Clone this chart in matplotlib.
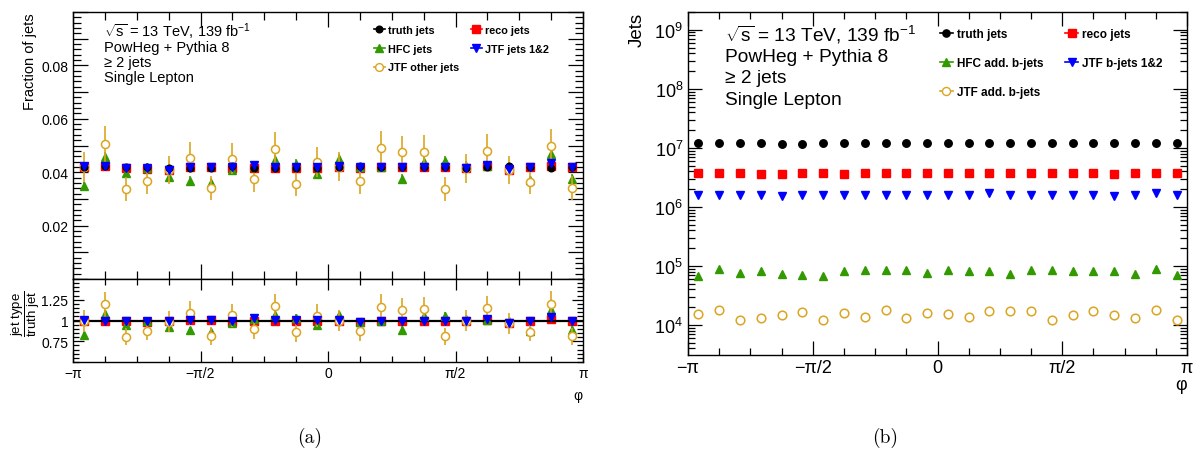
import numpy as np
import matplotlib
matplotlib.use('Agg')
import matplotlib.pyplot as plt
from matplotlib.lines import Line2D
from matplotlib.ticker import FixedLocator, FuncFormatter, MultipleLocator, LogLocator, NullFormatter

plt.rcParams['font.family'] = ['Liberation Sans', 'DejaVu Sans']
plt.rcParams['mathtext.fontset'] = 'custom'
plt.rcParams['mathtext.rm'] = 'Liberation Sans'
plt.rcParams['mathtext.it'] = 'Liberation Sans:italic'
plt.rcParams['mathtext.bf'] = 'Liberation Sans:bold'

# 24 bins in phi
n_bins = 24
phi_edges = np.linspace(-np.pi, np.pi, n_bins + 1)
phi_centers = 0.5 * (phi_edges[:-1] + phi_edges[1:])

# (a) fraction of jets per bin
truth_frac = [0.0421, 0.0424, 0.0420, 0.0420, 0.0414, 0.0417, 0.0417, 0.0423, 0.0415, 0.0417, 0.0415, 0.0415,
              0.0421, 0.0424, 0.0421, 0.0421, 0.0418, 0.0418, 0.0416, 0.0420, 0.0423, 0.0421, 0.0416, 0.0421]
reco_frac = [0.0421, 0.0424, 0.0416, 0.0412, 0.0410, 0.0421, 0.0421, 0.0415, 0.0415, 0.0417, 0.0415, 0.0415,
             0.0421, 0.0416, 0.0421, 0.0421, 0.0418, 0.0418, 0.0416, 0.0424, 0.0410, 0.0421, 0.0424, 0.0421]
jtf12_frac = [0.0422, 0.0424, 0.0415, 0.0415, 0.0410, 0.0421, 0.0421, 0.0418, 0.0428, 0.0418, 0.0418, 0.0418,
              0.0424, 0.0418, 0.0421, 0.0418, 0.0418, 0.0418, 0.0416, 0.0428, 0.0412, 0.0421, 0.0433, 0.0421]
hfc_frac = [0.0348, 0.0457, 0.0398, 0.0415, 0.0381, 0.0368, 0.0360, 0.0410, 0.0425, 0.0444, 0.0430, 0.0394,
            0.0450, 0.0418, 0.0420, 0.0375, 0.0440, 0.0443, 0.0424, 0.0425, 0.0420, 0.0370, 0.0467, 0.0375]
hfc_err = [0.0017, 0.0019, 0.0018, 0.0018, 0.0017, 0.0017, 0.0017, 0.0018, 0.0018, 0.0019, 0.0018, 0.0018,
           0.0019, 0.0018, 0.0018, 0.0017, 0.0019, 0.0019, 0.0018, 0.0018, 0.0018, 0.0017, 0.0019, 0.0017]
other_frac = [0.0419, 0.0506, 0.0338, 0.0368, 0.0409, 0.0455, 0.0340, 0.0450, 0.0374, 0.0488, 0.0356, 0.0439,
              0.0421, 0.0368, 0.0491, 0.0475, 0.0476, 0.0338, 0.0415, 0.0481, 0.0409, 0.0364, 0.0498, 0.0341]
other_err = [0.0055, 0.0066, 0.0044, 0.0048, 0.0053, 0.0059, 0.0044, 0.0058, 0.0049, 0.0063, 0.0046, 0.0057,
             0.0055, 0.0048, 0.0064, 0.0062, 0.0062, 0.0044, 0.0054, 0.0063, 0.0053, 0.0047, 0.0065, 0.0044]

# (b) number of jets per bin
truth_n = [1.19e7, 1.21e7, 1.19e7, 1.19e7, 1.18e7, 1.18e7, 1.19e7, 1.19e7, 1.19e7, 1.19e7, 1.19e7, 1.19e7,
           1.19e7, 1.19e7, 1.19e7, 1.19e7, 1.19e7, 1.19e7, 1.19e7, 1.19e7, 1.19e7, 1.19e7, 1.19e7, 1.19e7]
reco_n = [3.82e6, 3.82e6, 3.82e6, 3.67e6, 3.67e6, 3.82e6, 3.82e6, 3.67e6, 3.82e6, 3.82e6, 3.82e6, 3.82e6,
          3.82e6, 3.82e6, 3.82e6, 3.82e6, 3.82e6, 3.82e6, 3.82e6, 3.82e6, 3.67e6, 3.82e6, 3.82e6, 3.82e6]
jtf12_n = [1.62e6, 1.62e6, 1.62e6, 1.62e6, 1.55e6, 1.62e6, 1.62e6, 1.62e6, 1.62e6, 1.62e6, 1.62e6, 1.62e6,
           1.62e6, 1.62e6, 1.70e6, 1.62e6, 1.62e6, 1.62e6, 1.62e6, 1.62e6, 1.55e6, 1.62e6, 1.70e6, 1.62e6]
hfc_n = [6.67e4, 8.81e4, 7.57e4, 8.17e4, 7.20e4, 7.02e4, 6.84e4, 8.17e4, 8.38e4, 8.59e4, 8.38e4, 7.57e4,
         8.70e4, 8.27e4, 8.27e4, 7.20e4, 8.48e4, 8.48e4, 8.07e4, 8.27e4, 8.27e4, 7.20e4, 8.92e4, 7.11e4]
other_n = [1.52e4, 1.81e4, 1.21e4, 1.32e4, 1.46e4, 1.64e4, 1.22e4, 1.62e4, 1.37e4, 1.77e4, 1.29e4, 1.58e4,
           1.54e4, 1.34e4, 1.72e4, 1.72e4, 1.72e4, 1.22e4, 1.48e4, 1.72e4, 1.48e4, 1.32e4, 1.81e4, 1.22e4]

GREEN = '#339900'
ORANGE = '#dba521'
PI_TICKS = [-np.pi, -np.pi / 2, 0, np.pi / 2, np.pi]
PI_LABELS = ['\u2212\u03c0', '\u2212\u03c0/2', '0', '\u03c0/2', '\u03c0']


def root_ticks(ax, major_len, minor_len):
    ax.tick_params(which='both', direction='in', top=True, right=True, width=0.9)
    ax.tick_params(which='major', length=major_len)
    ax.tick_params(which='minor', length=minor_len)
    for s in ax.spines.values():
        s.set_linewidth(1.0)


def phi_axis(ax, labels):
    ax.set_xlim(-np.pi, np.pi)
    ax.xaxis.set_major_locator(FixedLocator(PI_TICKS))
    ax.xaxis.set_minor_locator(MultipleLocator(np.pi / 8))
    if labels:
        ax.set_xticklabels(PI_LABELS)
    else:
        ax.tick_params(axis='x', labelbottom=False)


fig = plt.figure(figsize=(11.95, 4.52), dpi=100)

# ---------------- (a) upper panel ----------------
ax1 = fig.add_axes([73 / 1195, 1 - 280 / 452, 510 / 1195, 267 / 452])
ax1.errorbar(phi_centers, reco_frac, fmt='s', color='red', ms=5.8, zorder=2)
ax1.errorbar(phi_centers, hfc_frac, yerr=hfc_err, fmt='^', color=GREEN, ms=5.4, elinewidth=1.1, zorder=3)
ax1.errorbar(phi_centers, other_frac, yerr=other_err, fmt='o', color=ORANGE, mfc='white', ms=5.8,
             mew=1.1, elinewidth=1.2, zorder=4)
ax1.errorbar(phi_centers, truth_frac, fmt='o', color='black', ms=4.8, zorder=5)
ax1.errorbar(phi_centers, jtf12_frac, fmt='v', color='blue', ms=5.4, zorder=6)
phi_axis(ax1, False)
ax1.set_ylim(0, 0.1)
ax1.yaxis.set_major_locator(MultipleLocator(0.01))
ax1.yaxis.set_minor_locator(MultipleLocator(0.002))
ax1.yaxis.set_major_formatter(FuncFormatter(
    lambda v, p: ('%.2f' % v) if (round(v * 100) % 2 == 0 and 0.005 < v < 0.095) else ''))
ax1.tick_params(axis='y', labelsize=10)
root_ticks(ax1, 11, 6)
ax1.set_ylabel('Fraction of jets', fontsize=10.5, loc='top')
ax1.yaxis.set_label_coords(-0.07, 1.0)

ax1.text(0.06, 0.93, r'$\sqrt{\mathrm{s}}$ = 13 TeV, 139 fb$^{\mathregular{-1}}$', transform=ax1.transAxes,
         fontsize=10.5, va='center')
for i, line in enumerate(['PowHeg + Pythia 8', '\u2265 2 jets', 'Single Lepton']):
    ax1.text(0.06, 0.87 - i * 0.057, line, transform=ax1.transAxes, fontsize=10.5, va='center')

handles_a = [
    Line2D([], [], color='black', marker='o', ms=4.8, lw=1.2),
    Line2D([], [], color=GREEN, marker='^', ms=5.2, lw=1.2),
    Line2D([], [], color=ORANGE, marker='o', mfc='white', ms=5.6, lw=1.2),
    Line2D([], [], color='red', marker='s', ms=5.6, lw=1.2),
    Line2D([], [], color='blue', marker='v', ms=5.2, lw=1.2),
]
labels_a = ['truth jets', 'HFC jets', 'JTF other jets', 'reco jets', 'JTF jets 1&2']
fig.legend(handles_a, labels_a, ncol=2, loc='upper left', bbox_to_anchor=(374 / 1195, 1 - 26 / 452),
           frameon=False, prop={'weight': 'bold', 'size': 7.8}, handlelength=1.0, handletextpad=0.3,
           labelspacing=0.8, columnspacing=1.05, borderpad=0, borderaxespad=0)

# ---------------- (a) ratio panel ----------------
axr = fig.add_axes([73 / 1195, 1 - 363 / 452, 510 / 1195, 83 / 452])
truth_arr = np.array(truth_frac)
axr.errorbar(phi_centers, np.array(reco_frac) / truth_arr, fmt='s', color='red', ms=5.8, zorder=2)
axr.axhline(1.0, color='black', lw=1.6, zorder=3)
axr.errorbar(phi_centers, np.array(hfc_frac) / truth_arr, yerr=np.array(hfc_err) / truth_arr, fmt='^',
             color=GREEN, ms=5.4, elinewidth=1.1, zorder=4)
axr.errorbar(phi_centers, np.array(other_frac) / truth_arr, yerr=np.array(other_err) / truth_arr, fmt='o',
             color=ORANGE, mfc='white', ms=5.8, mew=1.1, elinewidth=1.2, zorder=5)
axr.errorbar(phi_centers, np.array(jtf12_frac) / truth_arr, fmt='v', color='blue', ms=5.4, zorder=6)
phi_axis(axr, True)
axr.set_ylim(0.5, 1.5)
axr.yaxis.set_major_locator(FixedLocator([0.75, 1.0, 1.25]))
axr.yaxis.set_major_formatter(FuncFormatter(lambda v, p: {0.75: '0.75', 1.0: '1', 1.25: '1.25'}.get(round(v, 2), '')))
axr.yaxis.set_minor_locator(MultipleLocator(0.05))
axr.tick_params(labelsize=10)
root_ticks(axr, 8, 4.5)
axr.tick_params(axis='x', pad=3)
axr.set_xlabel('\u03c6', fontsize=10, loc='right', labelpad=6)
fig.text(26 / 1195, 1 - 314 / 452, r'$\dfrac{\mathrm{jet\ type}}{\mathrm{truth\ jet}}$', fontsize=9.5,
         rotation=90, ha='center', va='center')

# ---------------- (b) ----------------
ax2 = fig.add_axes([688 / 1195, 1 - 356 / 452, 499 / 1195, 343 / 452])
ax2.plot(phi_centers, truth_n, 'o', color='black', ms=5.4)
ax2.plot(phi_centers, reco_n, 's', color='red', ms=6.0)
ax2.plot(phi_centers, jtf12_n, 'v', color='blue', ms=5.6)
ax2.plot(phi_centers, hfc_n, '^', color=GREEN, ms=5.6)
ax2.plot(phi_centers, other_n, 'o', color=ORANGE, mfc='none', ms=6.2, mew=1.1)
ax2.set_yscale('log')
phi_axis(ax2, True)
ax2.set_ylim(3.1e3, 2.0e9)
ax2.yaxis.set_major_locator(LogLocator(base=10, numticks=20))
ax2.yaxis.set_minor_locator(LogLocator(base=10, subs=np.arange(2, 10), numticks=20))
ax2.yaxis.set_minor_formatter(NullFormatter())
ax2.tick_params(labelsize=13)
root_ticks(ax2, 10, 5)
ax2.tick_params(axis='x', pad=3)
ax2.set_ylabel('Jets', fontsize=13.5, loc='top')
ax2.yaxis.set_label_coords(-0.085, 1.0)
ax2.set_xlabel('\u03c6', fontsize=13, loc='right', labelpad=0)

ax2.text(0.075, 0.935, r'$\sqrt{\mathrm{s}}$ = 13 TeV, 139 fb$^{\mathregular{-1}}$', transform=ax2.transAxes,
         fontsize=13.8, va='center')
for i, line in enumerate(['PowHeg + Pythia 8', '\u2265 2 jets', 'Single Lepton']):
    ax2.text(0.075, 0.87 - i * 0.062, line, transform=ax2.transAxes, fontsize=13.8, va='center')

handles_b = [
    Line2D([], [], color='black', marker='o', ms=5.2, lw=1.2),
    Line2D([], [], color=GREEN, marker='^', ms=5.4, lw=1.2),
    Line2D([], [], color=ORANGE, marker='o', mfc='white', ms=5.8, lw=1.2),
    Line2D([], [], color='red', marker='s', ms=5.8, lw=1.2),
    Line2D([], [], color='blue', marker='v', ms=5.4, lw=1.2),
]
labels_b = ['truth jets', 'HFC add. b-jets', 'JTF add. b-jets', 'reco jets', 'JTF b-jets 1&2']
fig.legend(handles_b, labels_b, ncol=2, loc='upper left', bbox_to_anchor=(940 / 1195, 1 - 29 / 452),
           frameon=False, prop={'weight': 'bold', 'size': 8.5}, handlelength=1.1, handletextpad=0.3,
           labelspacing=1.45, columnspacing=1.9, borderpad=0, borderaxespad=0)

# sub-captions
fig.text(310 / 1195, 1 - 438 / 452, '(a)', fontsize=14, family='cmr10', ha='center', va='center')
fig.text(885 / 1195, 1 - 438 / 452, '(b)', fontsize=14, family='cmr10', ha='center', va='center')

fig.savefig('out.png', dpi=100)
